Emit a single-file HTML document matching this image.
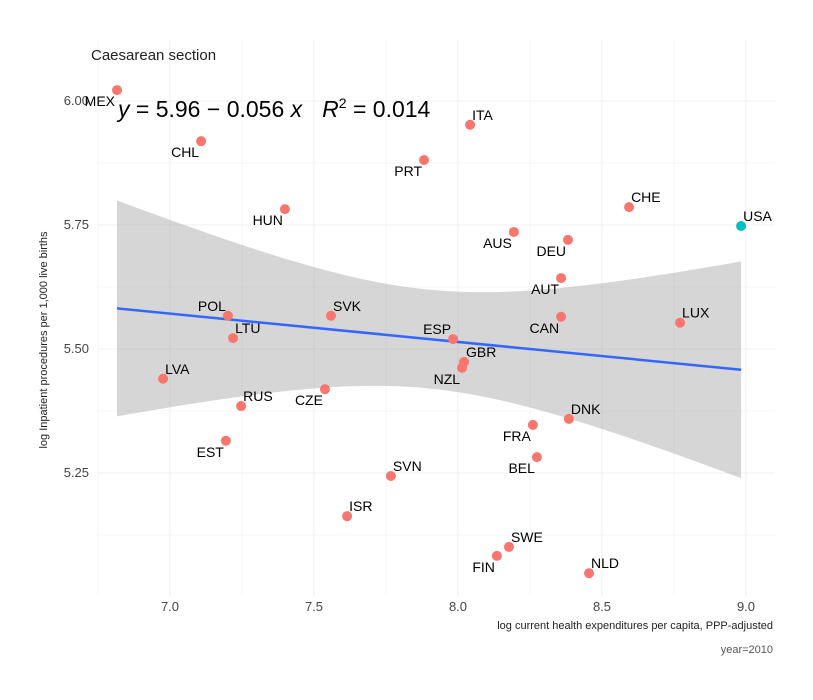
<!DOCTYPE html>
<html><head><meta charset="utf-8"><style>
body{margin:0;background:#fff;}
svg text{font-family:"Liberation Sans Narrow","Liberation Sans",sans-serif;}
</style></head><body>
<svg id="chart" width="813" height="695" xmlns="http://www.w3.org/2000/svg">
<rect width="813" height="695" fill="#fff"/>
<g id="grid"></g><g id="band"></g><g id="marks"></g><g id="labels"></g>
<text x="91" y="60" font-size="15" fill="#222">Caesarean section</text>
<text x="118" y="117" font-size="23" fill="#000" style="font-family:'Liberation Sans',sans-serif"><tspan font-style="italic">y</tspan> = 5.96 − 0.056 <tspan font-style="italic">x</tspan><tspan dx="20" font-style="italic">R</tspan><tspan dy="-9" font-size="14">2</tspan><tspan dy="9"> = 0.014</tspan></text>
<text transform="translate(47,340) rotate(-90)" text-anchor="middle" font-size="11" fill="#222">log Inpatient procedures per 1,000 live births</text>
<text x="773" y="629" text-anchor="end" font-size="11" fill="#222">log current health expenditures per capita, PPP-adjusted</text>
<text x="773" y="653" text-anchor="end" font-size="11" fill="#555">year=2010</text>
</svg>
<script>
const countries=["MEX","CHL","HUN","PRT","ITA","AUS","DEU","CHE","USA","AUT","CAN","LUX","POL","LTU","SVK","ESP","GBR","NZL","LVA","RUS","CZE","DNK","FRA","BEL","EST","SVN","ISR","SWE","FIN","NLD"];
const xVals=[6.816,7.108,7.399,7.882,8.042,8.194,8.382,8.594,8.983,8.358,8.358,8.771,7.201,7.219,7.559,7.983,8.021,8.014,6.976,7.247,7.538,8.385,8.260,8.274,7.194,7.767,7.615,8.177,8.135,8.455];
const yVals=[6.022,5.919,5.782,5.881,5.952,5.736,5.720,5.786,5.748,5.643,5.565,5.553,5.567,5.522,5.567,5.520,5.474,5.462,5.440,5.385,5.419,5.359,5.347,5.282,5.315,5.244,5.163,5.101,5.083,5.048];
const xTicks=[7.0,7.5,8.0,8.5,9.0];
const yTicks=[5.25,5.50,5.75,6.00];
const xTickLabels=["7.0","7.5","8.0","8.5","9.0"];
const yTickLabels=["5.25","5.50","5.75","6.00"];
const NS="http://www.w3.org/2000/svg";
const X=v=>170+(v-7)*288, Y=v=>101-(v-6)*496;
const PL=97,PR=775,PT=40,PB=595;
function mk(t,a,p){const e=document.createElementNS(NS,t);for(const k in a)e.setAttribute(k,a[k]);p.appendChild(e);return e;}
const grid=document.getElementById('grid');
for(let v=6.75;v<=9.26;v+=0.25){const l=mk('line',{x1:X(v),x2:X(v),y1:PT,y2:PB,stroke:'#efefef','stroke-width':Math.abs(v*2-Math.round(v*2))<1e-6?1:0.6},grid);
}
for(let v=5.0;v<=6.1;v+=0.125){const y=Y(v);if(y<PT||y>PB)continue;const l=mk('line',{x1:PL,x2:PR,y1:y,y2:y,stroke:'#efefef','stroke-width':Math.abs(v*4-Math.round(v*4))<1e-6?1:0.6},grid);
}
xTicks.forEach((v,i)=>{const t=mk('text',{x:X(v),y:611,'text-anchor':'middle','font-size':13,fill:'#444'},grid);t.textContent=xTickLabels[i];
});
yTicks.forEach((v,i)=>{const t=mk('text',{x:89,y:Y(v)+4,'text-anchor':'end','font-size':13,fill:'#444'},grid);t.textContent=yTickLabels[i];
});
const n=xVals.length,mx=xVals.reduce((a,b)=>a+b)/n,my=yVals.reduce((a,b)=>a+b)/n;
let sxx=0,sxy=0;xVals.forEach((x,i)=>{sxx+=(x-mx)**2;sxy+=(x-mx)*(yVals[i]-my);});
const b=sxy/sxx,a=my-b*mx;let sse=0;xVals.forEach((x,i)=>{sse+=(yVals[i]-a-b*x)**2;});
const s=Math.sqrt(sse/(n-2)),t=2.048;
const xmin=Math.min(...xVals),xmax=Math.max(...xVals);
let up=[],lo=[];for(let k=0;k<=80;k++){const x=xmin+(xmax-xmin)*k/80,f=a+b*x,se=s*Math.sqrt(1/n+(x-mx)**2/sxx);
up.push(X(x)+','+Y(f+t*se));lo.unshift(X(x)+','+Y(f-t*se));}
const band=document.getElementById('band');
const bp=mk('polygon',{points:up.concat(lo).join(' '),fill:'#999','fill-opacity':0.4},band);

const rl=mk('line',{x1:X(xmin),y1:Y(a+b*xmin),x2:X(xmax),y2:Y(a+b*xmax),stroke:'#3366ff','stroke-width':2.5},band);

const marks=document.getElementById('marks'),labels=document.getElementById('labels');
const below={MEX:1,CHL:1,HUN:1,PRT:1,AUS:1,DEU:1,AUT:1,CAN:1,NZL:1,CZE:1,FRA:1,BEL:1,EST:1,FIN:1,ESP:0};
const left={MEX:1,CHL:1,HUN:1,PRT:1,AUS:1,DEU:1,AUT:1,CAN:1,NZL:1,CZE:1,FRA:1,BEL:1,EST:1,FIN:1,ESP:1,POL:1};
countries.forEach((c,i)=>{const cx=X(xVals[i]),cy=Y(yVals[i]);
const p=mk('circle',{cx,cy,r:5,fill:c==='USA'?'#00bfc4':'#f8766d'},marks);

const tx=mk('text',{x:left[c]?cx-2:cx+2,y:below[c]?cy+16:cy-5,'text-anchor':left[c]?'end':'start','font-size':14,fill:'#000',style:"font-family:'Liberation Sans',sans-serif"},labels);
tx.textContent=c;});
</script>
</body></html>
